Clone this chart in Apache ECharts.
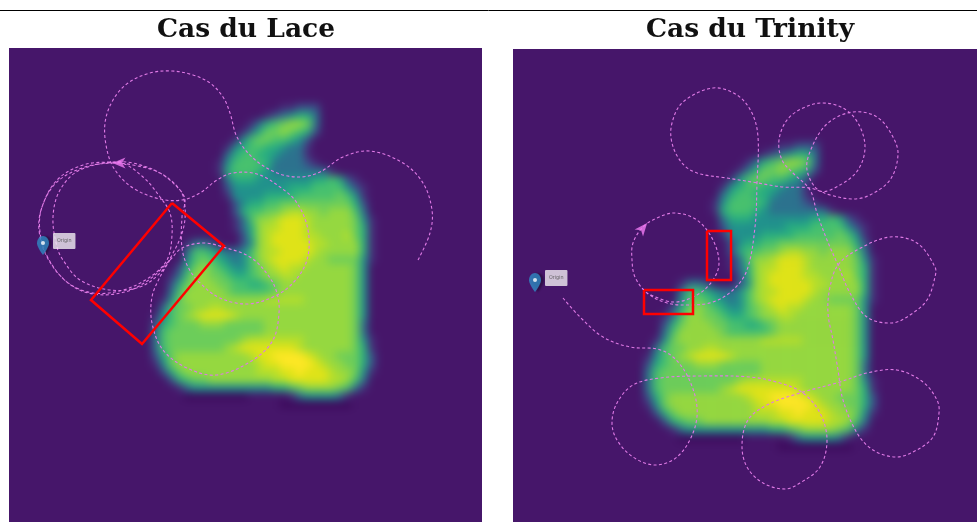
<!DOCTYPE html>
<html><head><meta charset="utf-8">
<style>
html,body{margin:0;padding:0;background:#fff;width:977px;height:522px;overflow:hidden}
#clip{position:absolute;left:0;top:0;width:977px;height:522px;overflow:hidden;
 clip-path:path('M9 48H482V522H9Z M513 49H977V522H513Z')}
#heat{position:absolute;left:-20px;top:-20px;width:1017px;height:562px;filter:blur(4px)}
#over{position:absolute;left:0;top:0;width:977px;height:522px}
</style>
<script src="https://cdn.jsdelivr.net/npm/echarts@6/dist/echarts.min.js"></script>
</head><body>
<div id="clip"><div id="heat"></div></div>
<div id="over"></div>
<script>
// Density, one string per row (0..b = level, z = dark halo)
const densityRows = [
"000000000000000000000000000000",
"000000000000000001122200000000",
"000000000000000123455300000000",
"000000000000013567887300000000",
"000000000000135778765200000000",
"000000000001467766542000000000",
"000000000014566554331000000000",
"000000000035665543331000000000",
"000000000146666533332100000000",
"000000000156665433333331000000",
"000000000035554444444556521000",
"000000000024444444555666642100",
"000000000014444555566666764100",
"000000000002455667777777775200",
"000000000002566778998878886300",
"00000000000136889aaa9888887410",
"00000000000135899aaa9888887510",
"0000000000002589aaaa9988897510",
"0000013320002489aaaaa998888510",
"00000366543346899aaaa988888510",
"0000046765434689aaaa9887777410",
"00002578765446789a998888887400",
"000136887765567889988888887400",
"000257888776655678888888887400",
"000368888876666678888888887400",
"001478888888888999998888887400",
"003677889988888888888888887400",
"0146789aaaa9888888888888887400",
"025677788877777888888888887300",
"036777777777777888888888887300",
"036777777777899999998888887410",
"036777777789aaaaaaa98888887510",
"02578888888889aabbbba988777520",
"01478888888888 9aabbbba9887752".replace(" ","")+"0",
"00257888888888999aabaaa9887410",
"000256778888888899aaaaa9986300",
"000013444444444455678888763100",
"00000zzzzzzzz00000134444310000",
"00000000000000000zzzzzzzzz0000"
];
const levelColors = ["#3d0a5c","#46166a","#472d7b","#3b528b","#2c728e","#21918c","#28ae80","#48c16e","#6ccd5a","#95d840","#b5de2b","#dfe318","#fde725"];

// Dashed flight tracks, in picture coordinates
const lacePath = [[418,260],[430,233],[432,210],[423,183],[403,163],[370,151],[343,157],[320,172],[300,177],[277,173],[253,158],[237,137],[230,113],[223,97],[210,83],[193,75],[172,71],[150,73],[128,83],[113,100],[105,123],[107,150],[115,170],[133,188],[160,199],[182,200],[200,193],[217,180],[233,173],[257,174],[280,187],[297,203],[308,230],[307,260],[293,283],[273,297],[247,304],[220,298],[200,283],[188,267],[182,248],[182,217],[185,200],[180,190],[160,173],[133,163],[113,162],[83,165],[57,180],[42,207],[39,230],[47,257],[67,282],[93,293],[123,290],[150,277],[167,260],[172,235],[170,213],[160,197],[143,177],[120,163],[80,170],[60,190],[53,217],[57,247],[63,260],[80,280],[110,290],[140,287],[160,273],[172,255],[183,230],[185,207],[180,190],[160,173],[133,165],[113,163],[85,167],[57,182],[42,207],[40,232],[48,258],[68,283],[93,294],[125,292],[150,279],[170,260],[182,248],[203,243],[223,247],[250,257],[268,275],[277,293],[279,313],[273,340],[253,360],[217,375],[187,368],[163,350],[152,323],[152,297],[160,277],[170,260]];
const trinityPath = [[563,298],[580,317],[603,337],[630,347],[657,349],[673,357],[688,377],[697,407],[693,433],[677,457],[655,465],[633,457],[617,440],[612,423],[617,403],[633,385],[660,378],[700,376],[750,377],[780,383],[803,393],[820,413],[827,440],[820,467],[800,483],[785,489],[763,483],[747,467],[742,445],[748,420],[767,405],[800,393],[840,382],[867,373],[897,370],[923,382],[937,400],[939,413],[933,437],[913,452],[895,457],[873,450],[857,433],[843,400],[838,370],[833,340],[828,313],[830,287],[838,265],[857,250],[890,237],[917,243],[935,267],[935,277],[927,300],[910,315],[892,323],[867,317],[850,293],[838,265],[827,240],[817,213],[810,190],[793,173],[782,160],[779,140],[787,120],[803,108],[822,103],[843,108],[858,123],[865,147],[858,170],[840,185],[820,191],[807,170],[812,147],[828,123],[853,112],[877,117],[893,137],[898,155],[890,180],[870,195],[853,199],[830,195],[810,188],[783,187],[758,183],[727,178],[697,173],[682,163],[672,143],[672,123],[683,102],[713,88],[737,95],[752,113],[758,137],[757,183],[755,227],[747,270],[733,290],[713,302],[690,305],[667,303],[647,293],[635,277],[632,260],[633,243],[643,227],[657,218],[675,213],[697,220],[713,240],[719,263],[713,280],[697,295],[673,302],[647,293]];
const laceZones = [[[172,203],[224,246],[142,344],[91,300],[172,203]]];
const trinityZones = [[[707,231],[731,231],[731,280],[707,280],[707,231]],[[644,290],[693,290],[693,314],[644,314],[644,290]]];
const laceOrigin = [43,255], trinityOrigin = [535,292];
const laceArrow = [119,163], trinityArrow = [643,228];
const titles = ["Cas du Lace","Cas du Trinity"];

const purple = levelColors[1];
const pink = "#e07ae6";

// ---- heat layer ----
const cells = [];
densityRows.forEach((row,j)=>{ for(let i=0;i<30;i++){ const c=row[i]||"0";
  cells.push([i,j,c==="z"?-1:parseInt(c,36)]); }});
const xCat = Array.from({length:30},(_,i)=>i), yCat = densityRows.map((_,j)=>j);
const off = 20; // heat canvas is shifted so the blur never reaches its edges
const catAxis = (grid,data,inv)=>({type:"category",gridIndex:grid,data,show:false,inverse:!!inv});
const heat = echarts.init(document.getElementById("heat"),null,{renderer:"canvas",width:1017,height:562});
heat.setOption({
  animation:false,
  grid:[
    {left:14,top:53,width:503,height:504,show:true,backgroundColor:purple,borderWidth:0},
    {left:518,top:54,width:494,height:503,show:true,backgroundColor:purple,borderWidth:0},
    {left:off+144,top:off+96,width:240,height:312},
    {left:off+636,top:off+134,width:250,height:316}
  ],
  xAxis:[catAxis(0,[0]),catAxis(1,[0]),catAxis(2,xCat),catAxis(3,xCat)],
  yAxis:[catAxis(0,[0]),catAxis(1,[0]),catAxis(2,yCat,true),catAxis(3,yCat,true)],
  visualMap:{show:false,type:"continuous",min:-1,max:11,seriesIndex:[0,1],inRange:{color:levelColors}},
  series:[
    {type:"heatmap",name:"Lace",xAxisIndex:2,yAxisIndex:2,data:cells,progressive:0},
    {type:"heatmap",name:"Trinity",xAxisIndex:3,yAxisIndex:3,data:cells,progressive:0}
  ]
});

// ---- overlay layer ----
const over = echarts.init(document.getElementById("over"),null,{renderer:"canvas",width:977,height:522});
const track = (data,idx)=>({type:"custom",coordinateSystem:"cartesian2d",data,xAxisIndex:idx,yAxisIndex:idx,silent:true,z:3,
  renderItem:(p,api)=> p.dataIndex!==0 ? null : ({type:"polyline",
    shape:{points:data.map(d=>api.coord(d)),smooth:0.35},
    style:{fill:"none",stroke:pink,lineWidth:1.1,lineDash:[3,2.4]}})});
const zone = (data,idx)=>({type:"line",data,xAxisIndex:idx,yAxisIndex:idx,showSymbol:false,symbol:"none",silent:true,
  lineStyle:{color:"#ff0000",width:2.5,join:"miter"},z:4});
const arrow = (pt,rot,idx)=>({type:"scatter",data:[pt],xAxisIndex:idx,yAxisIndex:idx,symbol:"path://M12 0L24 30L12 22L0 30Z",symbolSize:[11,13],symbolRotate:rot,
  itemStyle:{color:"#f27cf5"},z:5,silent:true});
const origin = (pt,idx)=>({type:"scatter",data:[pt],xAxisIndex:idx,yAxisIndex:idx,
  symbol:"path://M12 0C5.4 0 0 5.4 0 12C0 19 12 32 12 32C12 32 24 19 24 12C24 5.4 18.6 0 12 0Z",symbolKeepAspect:false,symbolSize:[12,19],symbolOffset:[0,-9.5],
  itemStyle:{color:"#2f8ac4",shadowColor:"rgba(0,0,0,.4)",shadowBlur:2,shadowOffsetX:3},z:6,silent:true});
const dot = (pt,idx)=>({type:"scatter",data:[pt],xAxisIndex:idx,yAxisIndex:idx,symbol:"circle",symbolSize:4,symbolOffset:[0,-12],
  itemStyle:{color:"#ffffff"},z:7,silent:true,
  label:{show:true,formatter:"Origin",position:[12,-8],fontSize:5.5,fontFamily:"Roboto",color:"#555",backgroundColor:"#f1edf2",padding:[5,4,5,4],borderRadius:1}});
const titleStyle = {fontFamily:"DejaVu Serif",fontWeight:"bold",fontSize:26.5,color:"#111"};
over.setOption({
  animation:false,
  title:[
    {text:titles[0],left:241,top:12,textAlign:"center",textStyle:titleStyle},
    {text:titles[1],left:745,top:12,textAlign:"center",textStyle:titleStyle}
  ],
  graphic:[{type:"line",shape:{x1:0,y1:10.5,x2:977,y2:10.5},style:{stroke:"#000",lineWidth:1}}],
  grid:[{left:9,top:48,width:473,height:474},{left:513,top:49,width:464,height:473}],
  xAxis:[{type:"value",gridIndex:0,min:9,max:482,show:false},{type:"value",gridIndex:1,min:513,max:977,show:false}],
  yAxis:[{type:"value",gridIndex:0,min:48,max:522,inverse:true,show:false},{type:"value",gridIndex:1,min:49,max:522,inverse:true,show:false}],
  series:[
    track(lacePath,0),track(trinityPath,1),
    ...laceZones.map(z=>zone(z,0)),...trinityZones.map(z=>zone(z,1)),
    arrow(laceArrow,90,0),arrow(trinityArrow,-40,1),
    origin(laceOrigin,0),origin(trinityOrigin,1),dot(laceOrigin,0),dot(trinityOrigin,1)
  ]
});
</script>
</body></html>
